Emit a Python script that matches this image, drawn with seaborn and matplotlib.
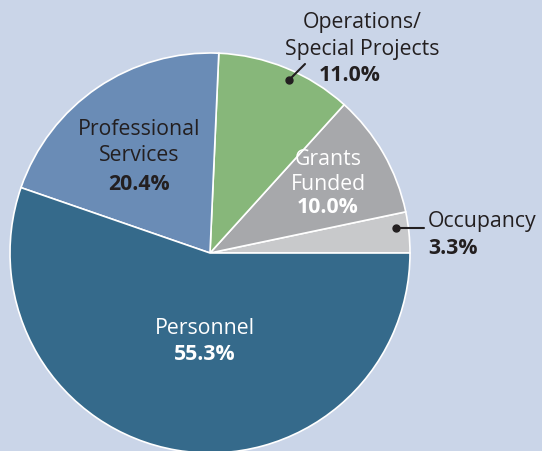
import matplotlib
matplotlib.use("Agg")
import matplotlib.pyplot as plt
import seaborn as sns

# Budget shares (percent), counterclockwise from 3 o'clock
categories = ["Occupancy", "Grants Funded", "Operations/Special Projects",
              "Professional Services", "Personnel"]
shares = [3.3, 10.0, 11.0, 20.4, 55.3]
slice_colors = ["#c8c9cb", "#a7a8ab", "#87b77a", "#6a8cb6", "#356a8b"]

bg = "#cad5e8"
dark = "#231f20"

sns.set_theme(style="white")
plt.rcParams["font.family"] = ["Open Sans", "DejaVu Sans"]

fig = plt.figure(figsize=(5.42, 4.51), dpi=100, facecolor=bg)
ax = fig.add_axes([10 / 542, -2 / 451, 400 / 542, 400 / 451])
ax.set_facecolor(bg)

palette = sns.color_palette(slice_colors)
ax.pie(shares, colors=palette, startangle=0, counterclock=True, radius=1,
       wedgeprops=dict(edgecolor="white", linewidth=1.2))
ax.set_xlim(-1, 1)
ax.set_ylim(-1, 1)
ax.set_aspect("auto")
ax.axis("off")


def pos(px, py):
    # pixel position -> data coords (center 210,253 ; radius 200 px)
    return (px - 210) / 200, (253 - py) / 200


fs = 15.3


def label(px, py, s, color, ha="center", bold=False):
    # small downward nudge: Open Sans sits a bit high with va=center
    x, y = pos(px, py + 3)
    ax.text(x, y, s, color=color, fontsize=fs, ha=ha, va="center",
            fontweight="bold" if bold else "normal", clip_on=False)


# Personnel
label(205, 325, "Personnel", "white")
label(205, 352, f"{shares[4]:.1f}%", "white", bold=True)

# Professional Services
label(139, 127, "Professional", dark)
label(139, 153, "Services", dark)
label(139, 181, f"{shares[3]:.1f}%", dark, bold=True)

# Grants Funded
label(328, 157, "Grants", "white")
label(328, 181, "Funded", "white")
label(328, 205, f"{shares[1]:.1f}%", "white", bold=True)

# Operations / Special Projects (outside, with leader)
label(362, 20, "Operations/", dark)
label(362, 47, "Special Projects", dark)
label(350, 73, f"{shares[2]:.1f}%", dark, bold=True)
x0, y0 = pos(289, 80)
x1, y1 = pos(305, 64)
ax.plot([x0, x1], [y0, y1], color=dark, linewidth=1.5, clip_on=False)
ax.plot([x0], [y0], "o", color=dark, markersize=5, clip_on=False)

# Occupancy (outside, with leader)
label(428, 219, "Occupancy", dark, ha="left")
label(428, 246, f"{shares[0]:.1f}%", dark, ha="left", bold=True)
x0, y0 = pos(396, 228)
x1, y1 = pos(424, 228)
ax.plot([x0, x1], [y0, y1], color=dark, linewidth=1.5, clip_on=False)
ax.plot([x0], [y0], "o", color=dark, markersize=5, clip_on=False)

fig.savefig("out.png", dpi=100, facecolor=bg)
